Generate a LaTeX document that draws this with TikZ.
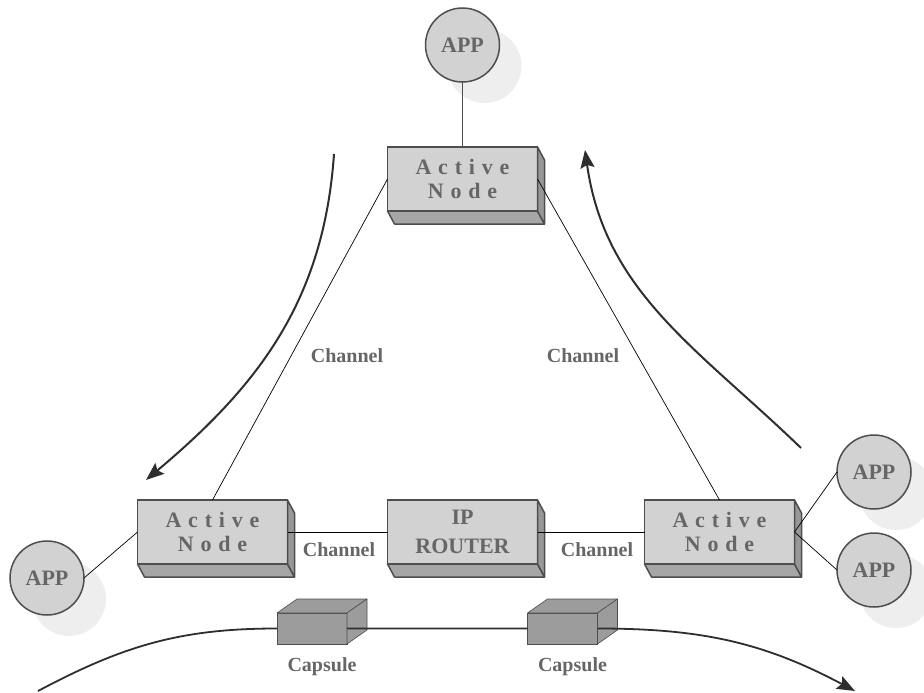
\documentclass[tikz,border=0pt]{standalone}
\usepackage{fontspec}
\setmainfont{Liberation Serif}
\usetikzlibrary{positioning,shadows,arrows.meta}

\definecolor{facegray}{HTML}{D2D2D2}
\definecolor{sidegray}{HTML}{A6A6A6}
\definecolor{sidedark}{HTML}{979797}
\definecolor{rimgray}{HTML}{4E4E4E}
\definecolor{textgray}{HTML}{666666}
\definecolor{shadowgray}{HTML}{EEEEEE}
\definecolor{capgray}{HTML}{9C9C9C}
\definecolor{arrowgray}{HTML}{2E2E2E}

\tikzset{
	app/.style={circle, draw=rimgray, line width=1.5pt, fill=facegray, minimum size=74pt,
		inner sep=0pt, outer sep=0pt, text=textgray, font=\fontsize{22}{24}\selectfont\bfseries,
		drop shadow={shadow xshift=22pt, shadow yshift=-21pt, fill=shadowgray, opacity=1}},
	boxnode/.style={rectangle, draw=rimgray, line width=1.5pt, fill=facegray, minimum width=150pt,
		minimum height=64pt, inner sep=0pt, outer sep=0pt, text=textgray, align=center},
	activenode/.style={boxnode, font=\fontsize{22}{24}\selectfont\bfseries\addfontfeatures{LetterSpace=31}},
	routernode/.style={boxnode, font=\fontsize{22}{29}\selectfont\bfseries},
	capsule/.style={rectangle, draw=rimgray, line width=0.6pt, fill=capgray, minimum width=70pt,
		minimum height=31pt, inner sep=0pt, outer sep=0pt},
	tag/.style={text=textgray, font=\fontsize{20}{22}\selectfont\bfseries, inner sep=0pt},
	wire/.style={line width=0.7pt, black},
	flow/.style={line width=2pt, arrowgray, -{Stealth[length=18pt, width=14pt, inset=3pt]}},
	sideface/.style={draw=rimgray, line width=1.5pt, line join=round},
	capface/.style={fill=capgray, draw=rimgray, line width=0.6pt, line join=round}
}

\begin{document}
\begin{tikzpicture}[x=1pt, y=1pt]
	\useasboundingbox (0,0) rectangle (924,-693);

	\node[routernode] (router) at (462.5,-532) {IP\\ROUTER};
	\node[activenode, left=100pt of router] (aleft) {Active\\Node};
	\node[activenode, right=107pt of router] (aright) {Active\\Node};
	\node[activenode, above=289pt of router] (atop) {Active\\Node};

	\foreach \n in {atop,aleft,router,aright} {
		\filldraw[sideface, fill=sidegray] (\n.south west) -- ++(7,-13)
			-- ([shift={(7,-13)}]\n.south east) -- (\n.south east) -- cycle;
		\filldraw[sideface, fill=sidedark] (\n.north east) -- ([shift={(7,-13)}]\n.north east)
			-- ([shift={(7,-13)}]\n.south east) -- (\n.south east) -- cycle;
	}

	\node[app, above=65pt of atop] (apptop) {APP};
	\node[app] (appleft) at (47,-578) {APP};
	\node[app] (appupper) at (874,-472) {APP};
	\node[app] (applower) at (874,-570) {APP};

	\node[capsule] (capa) at (312,-628.5) {};
	\node[capsule] (capb) at (562.5,-628.5) {};
	\foreach \n in {capa,capb} {
		\filldraw[capface] (\n.north west) -- ++(20,14) -- ([shift={(20,14)}]\n.north east)
			-- (\n.north east) -- cycle;
		\filldraw[capface] (\n.north east) -- ([shift={(20,14)}]\n.north east)
			-- ([shift={(20,14)}]\n.south east) -- (\n.south east) -- cycle;
	}

	\node[tag] (chanleft) at (347,-356) {Channel};
	\node[tag] (chanright) at (583,-356) {Channel};
	\node[tag] (chanlow) at (339,-550) {Channel};
	\node[tag] (chanlowb) at (597,-550) {Channel};
	\node[tag, below=13pt of capa, xshift=10pt] (capla) {Capsule};
	\node[tag, below=13pt of capb, xshift=10pt] (caplb) {Capsule};

	\draw[wire, rimgray, line width=1pt] (apptop) -- (atop);
	\draw[wire] (atop.west) -- (aleft.north);
	\draw[wire] (atop.east) -- (aright.north);
	\draw[wire] (aleft.east) -- (router.west);
	\draw[wire] (router.east) -- (aright.west);
	\draw[wire] (aleft.west) -- (appleft.east);
	\draw[wire] (aright.east) -- (appupper.west);
	\draw[wire] (aright.east) -- (applower.west);

	\coordinate (downstart) at (334,-154);
	\coordinate (downend) at (146,-480);
	\coordinate (upstart) at (801,-448);
	\coordinate (upend) at (585,-150);
	\coordinate (busstart) at (38,-691);
	\coordinate (busend) at (855,-691);

	\draw[flow] (downstart) to[out=-94, in=40] (downend);
	\draw[flow] (upstart) to[out=136, in=-82] (upend);
	\draw[flow, line width=1.8pt] (busstart) to[out=28, in=180] (capa.west)
		(capa.east) -- (capb.west)
		(capb.east) to[out=0, in=152] (busend);

\end{tikzpicture}
\end{document}
